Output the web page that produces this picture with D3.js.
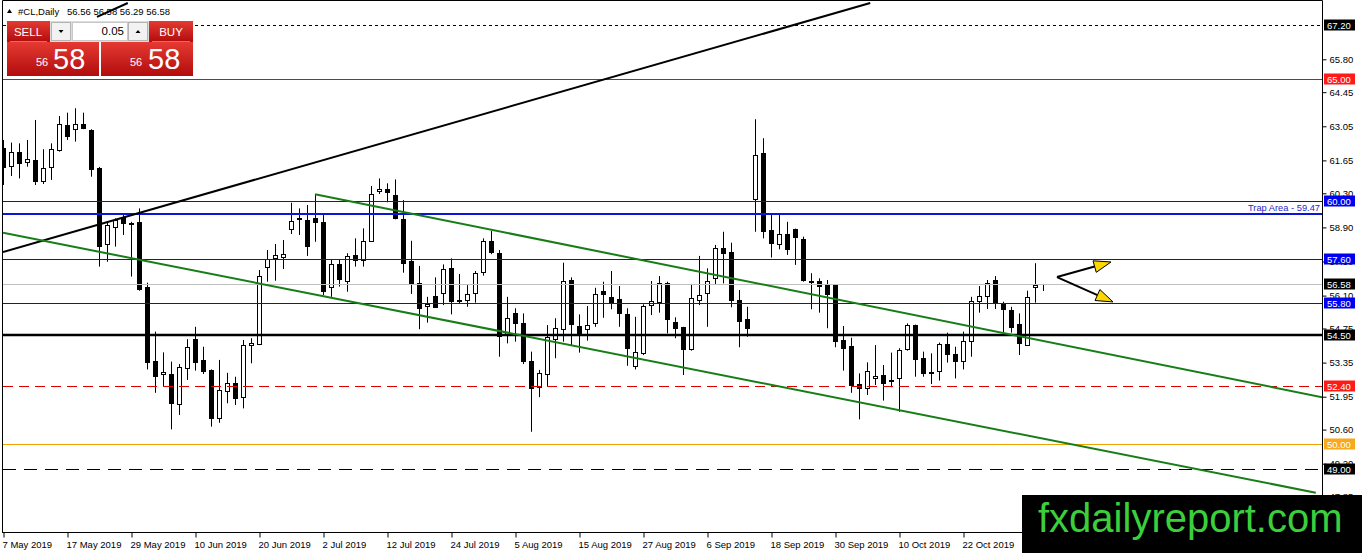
<!DOCTYPE html>
<html><head><meta charset="utf-8">
<script src="https://cdn.jsdelivr.net/npm/d3@7"></script>
<style>
html,body{margin:0;padding:0;background:#fff;overflow:hidden}
svg{display:block}
text{font-family:"Liberation Sans",Arial,sans-serif}
</style>
</head><body>
<svg id="c" width="1362" height="553"></svg>
<script>
// ---------- DATA ----------
const symbol = "#CL,Daily";
const lastOHLC = [56.56, 56.58, 56.29, 56.58];
const opens = [62.16,61.43,62.01,61.60,61.67,60.82,61.37,62.08,63.10,62.93,63.14,62.90,61.35,58.21,58.93,59.31,59.09,59.11,56.44,53.42,52.87,52.87,51.64,53.12,54.31,53.46,53.05,51.06,52.18,52.50,51.95,54.07,54.10,57.26,57.66,57.70,58.83,59.24,59.20,59.27,59.13,56.47,57.38,56.71,57.77,57.56,58.35,60.41,60.48,60.23,59.23,57.52,56.60,55.69,56.08,56.19,57.22,55.87,55.92,56.19,57.06,58.34,57.84,54.48,55.37,54.96,53.42,52.36,52.87,54.31,54.72,56.74,54.86,54.72,54.96,56.29,56.05,55.95,55.33,53.21,53.76,55.71,55.85,56.63,55.00,54.80,53.90,55.92,56.19,56.81,58.04,57.88,55.92,55.13,60.05,61.97,58.79,58.22,58.63,58.83,58.42,56.70,56.70,56.53,56.53,54.28,54.03,52.47,52.29,52.70,52.84,52.64,52.70,53.90,54.89,53.55,52.96,53.00,54.10,53.69,53.42,54.24,55.89,56.08,56.74,55.78,55.51,54.93,54.07,56.44,56.56];
const highs = [62.49,62.38,62.35,62.49,63.31,62.11,62.35,63.47,63.61,63.79,63.61,62.93,61.38,59.13,59.27,59.41,59.13,59.68,56.63,54.62,53.77,53.39,53.29,54.31,54.82,54.00,53.07,53.46,52.93,52.77,54.28,54.35,57.15,57.97,58.22,58.38,59.91,59.68,59.82,60.23,59.48,57.56,57.56,57.84,58.45,58.86,60.60,60.91,60.71,60.87,60.02,58.35,57.32,56.05,56.85,57.38,57.63,56.99,56.53,57.11,58.45,58.75,57.97,56.05,55.58,55.37,53.80,53.05,54.89,55.17,57.45,56.85,55.33,55.67,56.42,56.67,57.11,56.49,55.58,55.23,55.74,56.70,56.90,56.67,55.21,54.82,56.58,57.73,57.22,58.18,58.72,58.27,56.33,55.64,63.34,62.56,59.41,59.48,59.13,58.85,58.52,57.02,56.81,56.74,56.55,54.85,54.37,52.91,53.36,54.07,53.25,53.76,53.94,54.96,54.91,53.80,53.73,54.17,54.58,54.00,54.62,56.05,56.49,56.74,56.90,55.85,55.64,55.37,56.30,57.43,56.58];
const lows = [60.64,61.01,60.91,61.39,60.64,60.68,60.85,62.01,62.49,62.42,62.93,60.98,57.29,57.49,58.11,58.59,56.88,56.30,53.07,52.11,52.39,50.61,51.20,52.64,53.02,52.88,50.72,50.88,51.68,51.61,51.47,53.32,54.07,56.67,56.71,57.19,58.63,58.59,57.73,58.31,56.12,56.05,56.47,56.26,57.29,57.29,58.30,60.27,59.93,59.23,57.04,56.17,54.72,54.99,55.62,55.71,55.33,55.78,55.64,55.81,56.92,57.80,53.59,54.14,54.21,53.29,50.51,51.93,52.39,53.53,54.21,54.03,53.76,54.25,54.82,55.19,55.54,54.82,53.22,53.07,53.66,55.30,55.40,54.55,54.35,52.84,53.84,55.71,54.82,56.58,56.60,55.62,53.98,54.41,58.72,58.45,57.66,58.00,57.77,57.36,56.67,55.54,55.40,54.76,53.98,53.02,52.11,51.02,52.02,52.43,51.79,52.34,51.33,53.84,52.77,52.77,52.47,52.61,53.35,52.70,53.07,53.59,55.40,55.55,55.55,54.58,54.58,53.66,54.05,55.81,56.29];
const closes = [61.38,62.01,61.56,61.71,60.82,61.33,62.11,63.14,62.66,63.14,62.97,61.30,58.15,59.00,59.20,59.07,59.03,56.36,53.36,52.81,52.95,51.68,53.18,54.00,53.39,53.02,51.06,52.22,52.50,51.91,54.07,54.14,56.90,57.59,57.75,57.80,59.17,59.29,58.14,59.13,56.30,57.38,56.79,57.73,57.56,58.34,60.27,60.46,60.37,59.27,57.45,56.56,55.60,55.74,55.64,57.18,55.89,55.92,56.15,57.02,58.34,57.88,54.45,55.17,54.99,53.43,52.29,52.91,54.41,54.76,56.70,54.92,54.55,54.88,56.17,56.15,55.78,55.37,53.94,53.77,55.69,55.89,56.63,55.13,54.76,53.90,55.99,56.12,56.71,58.04,57.84,55.92,55.07,54.78,61.87,58.76,58.25,58.63,58.00,58.49,56.74,56.65,56.51,56.15,54.24,53.96,52.43,52.29,53.00,52.80,52.52,52.58,53.87,54.89,53.49,52.91,52.91,54.10,53.69,53.43,54.24,55.88,56.08,56.60,55.78,55.54,54.82,54.14,56.05,56.53,56.58];

const tickBars = [0,8,16,24,32,40,48,56,64,72,80,88,96,104,112,120];
const tickLabels = ["7 May 2019","17 May 2019","29 May 2019","10 Jun 2019","20 Jun 2019","2 Jul 2019","12 Jul 2019","24 Jul 2019","5 Aug 2019","15 Aug 2019","27 Aug 2019","6 Sep 2019","18 Sep 2019","30 Sep 2019","10 Oct 2019","22 Oct 2019"];
const priceTicks = [65.80,64.45,63.05,61.65,60.30,58.90,57.50,56.10,54.75,53.35,51.95,50.60,49.20,47.85];

// horizontal levels
const levelValues = [67.20,65.00,60.00,59.47,57.60,56.58,55.80,54.50,52.40,50.00,49.00];
const levelNames  = ["","","","Trap Area - 59.47","","","","","","",""];
// trend lines as [barIndex, price]
const trendBlack   = [[0,57.89],[108.4,68.11]];
const trendShort   = [[11.75,67.54],[15.6,68.11]];
const channelUpper = [[39,60.26],[164.9,51.93]];
const channelLower = [[0,58.68],[164.1,48.01]];
// arrows: start and tips [barIndex, price]
const arrowStart = [131.75,56.86];
const arrowTips  = [[138.5,57.48],[138.75,55.84]];

// ---------- LAYOUT ----------
const W = 1362, H = 553;
const L = 3, R = 1322, T = 0, B = 532;
const svg = d3.select("#c");
const x = d3.scaleLinear().domain([0,164.875]).range([L,R]);
const y = d3.scaleLinear().domain([65.80,51.95]).range([59.3,396.7]);

svg.append("rect").attr("width",W).attr("height",H).attr("fill","#fff");
svg.append("defs").append("clipPath").attr("id","plot")
  .append("rect").attr("x",L).attr("y",T).attr("width",R-L).attr("height",B-T);
const defs = svg.select("defs");
const g1 = defs.append("linearGradient").attr("id","red").attr("x1",0).attr("y1",0).attr("x2",0).attr("y2",1);
g1.append("stop").attr("offset","0%").attr("stop-color","#e53a33");
g1.append("stop").attr("offset","100%").attr("stop-color","#b10c0c");

const plot = svg.append("g").attr("clip-path","url(#plot)");

// candles
const data = opens.map((o,i)=>({i,o,h:highs[i],l:lows[i],c:closes[i]}));
const cg = plot.append("g");
cg.selectAll("line.w").data(data).join("line")
  .attr("x1",d=>Math.round(x(d.i))+0.5).attr("x2",d=>Math.round(x(d.i))+0.5)
  .attr("y1",d=>y(d.h)).attr("y2",d=>y(d.l))
  .attr("stroke","#000").attr("stroke-width",1);
cg.selectAll("rect.b").data(data).join("rect")
  .attr("x",d=>Math.round(x(d.i))-1.5)
  .attr("width",4)
  .attr("y",d=>Math.round(y(Math.max(d.o,d.c)))+0.5)
  .attr("height",d=>Math.max(0.01,Math.round(y(Math.min(d.o,d.c)))-Math.round(y(Math.max(d.o,d.c)))))
  .attr("fill",d=>d.c>d.o?"#fff":"#000")
  .attr("stroke","#000").attr("stroke-width",1);

// level lines
const levelStyle = {
  67.20:{c:"#000",w:1,dash:"3,3"},
  65.00:{c:"#ff0000",w:1},
  60.00:{c:"#14149c",w:1},
  59.47:{c:"#0a14dc",w:2},
  57.60:{c:"#14149c",w:1},
  56.58:{c:"#c0c0c0",w:1},
  55.80:{c:"#14149c",w:1},
  54.50:{c:"#000",w:2.5},
  52.40:{c:"#e00000",w:1,dash:"10,6"},
  50.00:{c:"#f0a000",w:1},
  49.00:{c:"#000",w:1,dash:"13,8"}
};
levelValues.forEach((v,k)=>{
  const s = levelStyle[v.toFixed(2)] || levelStyle[v];
  const yy = s.w%2===1 ? Math.round(y(v))+0.5 : Math.round(y(v));
  plot.append("line").attr("x1",L).attr("x2",R).attr("y1",yy).attr("y2",yy)
    .attr("stroke",s.c).attr("stroke-width",s.w).attr("stroke-dasharray",s.dash||null);
  if(levelNames[k]){
    plot.append("text").attr("x",R-2).attr("y",yy-3).attr("text-anchor","end")
      .attr("font-size","9.3px").attr("fill","#2828c8").text(levelNames[k]);
  }
});

// trend lines
const lineGen = d3.line().x(d=>x(d[0])).y(d=>y(d[1]));
plot.append("path").attr("d",lineGen(trendBlack)).attr("stroke","#000").attr("stroke-width",2).attr("fill","none");
plot.append("path").attr("d",lineGen(trendShort)).attr("stroke","#000").attr("stroke-width",2).attr("fill","none");
plot.append("path").attr("d",lineGen(channelUpper)).attr("stroke","#177d17").attr("stroke-width",2).attr("fill","none");
plot.append("path").attr("d",lineGen(channelLower)).attr("stroke","#177d17").attr("stroke-width",2).attr("fill","none");

// arrows
arrowTips.forEach(t=>{
  const x0=x(arrowStart[0]), y0=y(arrowStart[1]), x1=x(t[0]), y1=y(t[1]);
  const ang=Math.atan2(y1-y0,x1-x0), len=17, hw=6;
  const bx=x1-len*Math.cos(ang), by=y1-len*Math.sin(ang);
  plot.append("line").attr("x1",x0).attr("y1",y0).attr("x2",bx).attr("y2",by).attr("stroke","#000").attr("stroke-width",2);
  const p=[[x1,y1],[bx+hw*Math.sin(ang),by-hw*Math.cos(ang)],[bx-hw*Math.sin(ang),by+hw*Math.cos(ang)]];
  plot.append("path").attr("d","M"+p.map(q=>q.join(",")).join("L")+"Z")
    .attr("fill","#ffd700").attr("stroke","#000").attr("stroke-width",1);
});

// border
svg.append("path").attr("d",`M${L-0.5},${B}V${T+0.5}H${R+0.5}V${B}`).attr("fill","none").attr("stroke","#000").attr("stroke-width",1);
svg.append("line").attr("x1",L-1).attr("x2",R+1).attr("y1",B+0.5).attr("y2",B+0.5).attr("stroke","#000");

// right axis
const ra = svg.append("g").attr("transform",`translate(${R+0.5},0)`)
  .call(d3.axisRight(y).tickValues(priceTicks).tickSize(4).tickPadding(3).tickFormat(d3.format(".2f")));
ra.select(".domain").remove();
ra.selectAll("text").attr("font-size","9.5px").attr("fill","#000").attr("font-family","Liberation Sans, Arial, sans-serif");
ra.selectAll("line").attr("stroke","#000");

// bottom axis
const ba = svg.append("g").attr("transform",`translate(0,${B+0.5})`)
  .call(d3.axisBottom(x).tickValues(tickBars).tickSize(5).tickPadding(4).tickFormat((d,i)=>tickLabels[i]));
ba.select(".domain").remove();
ba.selectAll(".tick line").attr("transform","translate(0.5,0)").attr("stroke","#000");
ba.selectAll("text").attr("text-anchor","start").attr("dx","-1").attr("font-size","9.5px").attr("fill","#000").attr("font-family","Liberation Sans, Arial, sans-serif");

// level price boxes
const boxColor = {67.20:"#000",65.00:"#ff1a1a",60.00:"#0000f0",57.60:"#0000f0",56.58:"#000",55.80:"#0000f0",54.50:"#000",52.40:"#ff1a1a",50.00:"#f7a81c",49.00:"#000"};
levelValues.forEach(v=>{
  const c = boxColor[v.toFixed(2)] || boxColor[v];
  if(!c) return;
  const yy = y(v);
  svg.append("rect").attr("x",R+2).attr("y",Math.round(yy)-5.5).attr("width",31).attr("height",11).attr("fill",c);
  svg.append("text").attr("x",R+5).attr("y",Math.round(yy)+3.5).attr("font-size","9.5px").attr("fill","#fff").text(v.toFixed(2));
});

// header
svg.append("path").attr("d","M7,13L9.5,9L12,13Z").attr("fill","#000");
svg.append("text").attr("x",18).attr("y",14.5).attr("font-size","9.5px").attr("fill","#000").text(symbol);
svg.append("text").attr("x",67).attr("y",14.5).attr("font-size","9.5px").attr("fill","#000").text(lastOHLC.map(d=>d.toFixed(2)).join(" "));

// trade panel
const P = svg.append("g");
P.append("rect").attr("x",7).attr("y",21).attr("width",43).attr("height",21).attr("fill","url(#red)");
P.append("rect").attr("x",149).attr("y",21).attr("width",44).attr("height",21).attr("fill","url(#red)");
P.append("rect").attr("x",50).attr("y",21).attr("width",99).attr("height",21).attr("fill","#dcdcdc");
P.append("rect").attr("x",51.5).attr("y",22.5).attr("width",19).attr("height",18).attr("fill","#f2f2f2").attr("stroke","#b4b4b4");
P.append("rect").attr("x",72.5).attr("y",22.5).attr("width",55).attr("height",18).attr("fill","#fff").attr("stroke","#c8c8c8");
P.append("rect").attr("x",128.5).attr("y",22.5).attr("width",19).attr("height",18).attr("fill","#f2f2f2").attr("stroke","#b4b4b4");
P.append("path").attr("d","M58.5,30L63.5,30L61,33Z").attr("fill","#000");
P.append("path").attr("d","M135.5,33L140.5,33L138,30Z").attr("fill","#000");
P.append("text").attr("x",124).attr("y",35).attr("text-anchor","end").attr("font-size","11.5px").attr("fill","#000").text("0.05");
P.append("text").attr("x",28).attr("y",35.5).attr("text-anchor","middle").attr("font-size","11.5px").attr("fill","#fff").text("SELL");
P.append("text").attr("x",171).attr("y",35.5).attr("text-anchor","middle").attr("font-size","11.5px").attr("fill","#fff").text("BUY");
P.append("line").attr("x1",10).attr("x2",47).attr("y1",41.5).attr("y2",41.5).attr("stroke","#f08080").attr("stroke-width",0.8);
P.append("line").attr("x1",152).attr("x2",190).attr("y1",41.5).attr("y2",41.5).attr("stroke","#f08080").attr("stroke-width",0.8);
P.append("rect").attr("x",7).attr("y",42).attr("width",92).attr("height",34).attr("fill","url(#red)");
P.append("rect").attr("x",101).attr("y",42).attr("width",92).attr("height",34).attr("fill","url(#red)");
const bid = lastOHLC[3].toFixed(2).split(".");
[[36,53],[130,148]].forEach(p=>{
  P.append("text").attr("x",p[0]).attr("y",65.5).attr("font-size","11px").attr("fill","#fff").text(bid[0]);
  P.append("text").attr("x",p[1]).attr("y",68.5).attr("font-size","29px").attr("fill","#fff").text(bid[1]);
});

// watermark
svg.append("rect").attr("x",1022).attr("y",495).attr("width",340).attr("height",58).attr("fill","#000");
svg.append("text").attr("x",1038).attr("y",532).attr("font-size","40px").attr("fill","#3ccf3c").text("fxdailyreport.com");
</script>
</body></html>
